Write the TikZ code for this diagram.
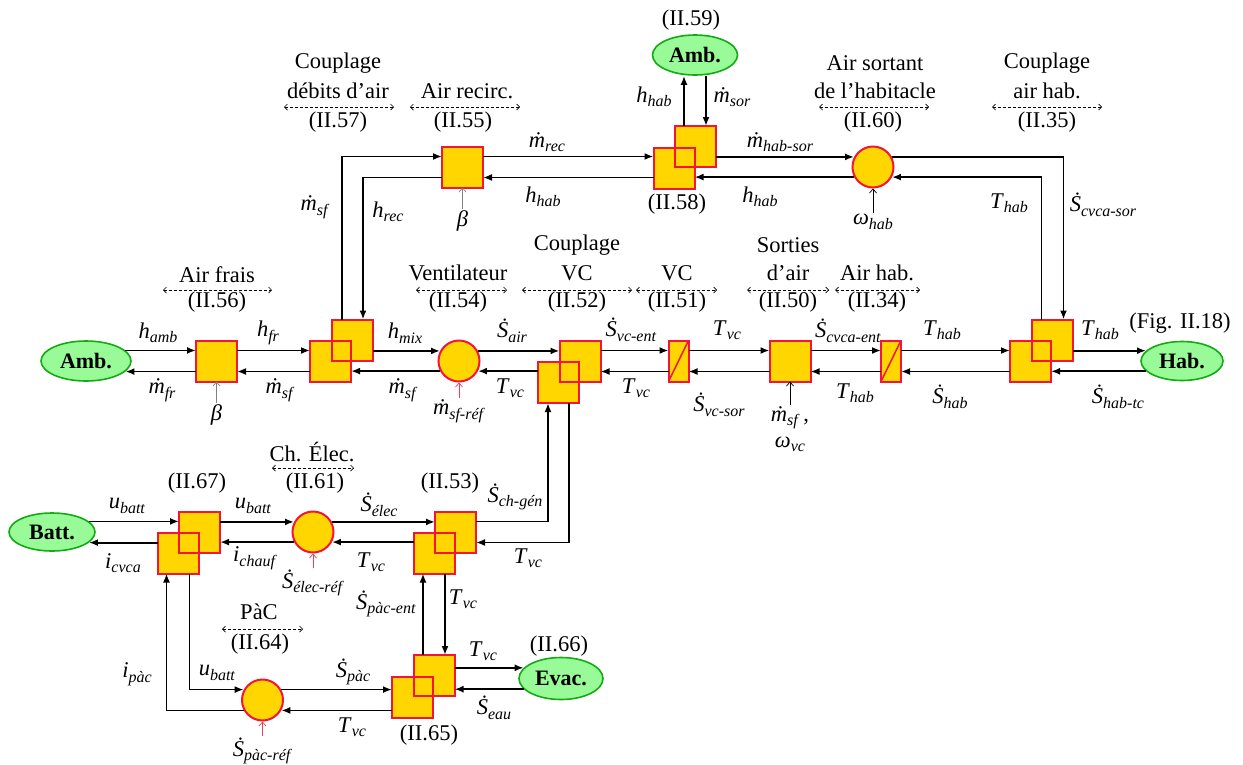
\documentclass[tikz,border=0pt]{standalone}
\usepackage[no-math]{fontspec}
\setmainfont{Liberation Serif}
\usepackage{tikz}
\usetikzlibrary{shapes.geometric,arrows.meta,positioning,calc}

\definecolor{boxyel}{RGB}{255,214,0}
\definecolor{boxred}{RGB}{245,20,55}
\definecolor{srcgreen}{RGB}{152,251,152}
\definecolor{srcedge}{RGB}{20,170,20}
\definecolor{refred}{RGB}{240,60,90}

\newcommand{\vv}[2]{\textit{#1}\raisebox{-4.5pt}{\fontsize{16}{18}\selectfont\textit{#2}}}
\newcommand{\ds}{Ṡ}
\newcommand{\dm}{ṁ}

\tikzset{
  blk/.style={draw=boxred, fill=boxyel, line width=2pt, minimum size=41pt, inner sep=0pt, outer sep=0pt},
  conv/.style={blk, minimum width=20pt, minimum height=41pt,
    path picture={\draw[boxred, line width=1.5pt] (path picture bounding box.south west) -- (path picture bounding box.north east);}},
  acc/.style={circle, draw=boxred, fill=boxyel, line width=2pt, minimum size=41pt, inner sep=0pt},
  src/.style={ellipse, draw=srcedge, fill=srcgreen, line width=1.6pt, inner sep=0pt, font=\fontsize{22}{26}\selectfont\bfseries},
  flow/.style={line width=1.8pt, ->},
  parm/.style={line width=.7pt, -{Straight Barb[length=4pt,width=7pt]}, draw=gray},
  eqspan/.style={line width=.7pt, dash pattern=on 3pt off 2pt, {Straight Barb[length=3pt,width=6pt]}-{Straight Barb[length=3pt,width=6pt]}},
}

\begin{document}
\begin{tikzpicture}[x=1pt, y=-1pt, >={Latex[length=9pt,width=7pt]}, font=\fontsize{22.5}{26}\selectfont, every node/.append style={inner sep=1.5pt}]
\useasboundingbox (0,0) rectangle (1243,764);

\coordinate (mu) at (0,350.5);
\coordinate (ml) at (0,371.5);
\coordinate (tu) at (0,156.5);
\coordinate (tl) at (0,177.5);
\coordinate (bu) at (0,521.5);
\coordinate (bl) at (0,542.5);

% main row
\node[src, minimum width=90pt, minimum height=40pt] (amb1) at (86,361) {Amb.};
\node[blk] (b56) at (216.5,361) {};
\node[blk] (c57b) at (330.5,361) {};
\node[blk] (c57f) at (352.5,340) {};
\node[acc] (v54) at (459,361) {};
\node[blk] (c52b) at (558.5,382.5) {};
\node[blk] (c52f) at (580,361) {};
\node[conv] (s51) at (678.5,361) {};
\node[blk] (b50) at (790,361) {};
\node[conv] (s34) at (891,361) {};
\node[blk] (c35b) at (1030.5,361) {};
\node[blk] (c35f) at (1052.5,340) {};
\node[src, minimum width=82pt, minimum height=39pt] (hab) at (1182,361) {Hab.};

% top row
\node[blk] (b55) at (462.5,167) {};
\node[blk] (c58b) at (674,168) {};
\node[blk] (c58f) at (695,146.5) {};
\node[src, minimum width=85pt, minimum height=40pt] (amb2) at (695,55) {Amb.};
\node[acc] (r60) at (873,167) {};

% bottom rows
\node[src, minimum width=86pt, minimum height=38pt] (batt) at (52,532) {Batt.};
\node[blk] (c67b) at (178,553) {};
\node[blk] (c67f) at (199.5,532) {};
\node[acc] (e61) at (313,532) {};
\node[blk] (c53b) at (434,553) {};
\node[blk] (c53f) at (455.5,532) {};
\node[blk] (c65b) at (412.5,697) {};
\node[blk] (c65f) at (434,675.5) {};
\node[acc] (p64) at (262.5,700) {};
\node[src, minimum width=84pt, minimum height=42pt] (evac) at (561,678.5) {Evac.};

\foreach \n in {c57b,c52b,c35b,c58b,c67b,c53b,c65b}
  \draw[boxred, line width=2pt] (\n.south west) rectangle (\n.north east);

% connectors, main row
\draw[flow] (amb1.15) -- (amb1.15 -| b56.west);
\draw[flow] (amb1.-15 -| b56.west) -- (amb1.-15);
\draw[flow] (b56.east |- mu) -- (c57b.west |- mu);
\draw[flow] (c57b.west |- ml) -- (b56.east |- ml);
\draw[flow] (v54.152 -| c57f.east) -- (v54.152);
\draw[flow] (v54.-152) -- (v54.-152 -| c57b.east);
\draw[flow] (v54.28) -- (v54.28 -| c52f.west);
\draw[flow] (v54.-28 -| c52b.west) -- (v54.-28);
\draw[flow] (c52f.east |- mu) -- (s51.west |- mu);
\draw[flow] (s51.west |- ml) -- (c52f.east |- ml);
\draw[flow] (s51.east |- mu) -- (b50.west |- mu);
\draw[flow] (b50.west |- ml) -- (s51.east |- ml);
\draw[flow] (b50.east |- mu) -- (s34.west |- mu);
\draw[flow] (s34.west |- ml) -- (b50.east |- ml);
\draw[flow] (s34.east |- mu) -- (c35b.west |- mu);
\draw[flow] (c35b.west |- ml) -- (s34.east |- ml);
\draw[flow] (hab.164 -| c35f.east) -- (hab.164);
\draw[flow] (hab.-164) -- (hab.-164 -| c35b.east);

% connectors, top row
\draw[flow] ([xshift=-10.5pt]c57f.north) |- (b55.west |- tu);
\draw[flow] (b55.west |- tl) -| ([xshift=10.5pt]c57f.north);
\draw[flow] (b55.east |- tu) -- (c58b.west |- tu);
\draw[flow] (c58b.west |- tl) -- (b55.east |- tl);
\draw[flow] (r60.152 -| c58f.east) -- (r60.152);
\draw[flow] (r60.-152) -- (r60.-152 -| c58b.east);
\draw[flow] ([xshift=-11pt]c58f.north) -- ([xshift=-11pt]amb2.south);
\draw[flow] ([xshift=11pt]amb2.south) -- ([xshift=11pt]c58f.north);
\draw[flow] (r60.28) -| ([xshift=11pt]c35f.north);
\draw[flow] ([xshift=-11pt]c35f.north) |- (r60.-28);

% connectors, bottom rows
\draw[flow] (c53f.east |- bu) -| ([xshift=-10.5pt]c52b.south);
\draw[flow] ([xshift=10.5pt]c52b.south) |- (c53f.east |- bl);
\draw[flow] (batt.16) -- (batt.16 -| c67f.west);
\draw[flow] (batt.-16 -| c67b.west) -- (batt.-16);
\draw[flow] (e61.152 -| c67f.east) -- (e61.152);
\draw[flow] (e61.-152) -- (e61.-152 -| c67f.east);
\draw[flow] (e61.28) -- (e61.28 -| c53f.west);
\draw[flow] (e61.-28 -| c53b.west) -- (e61.-28);
\draw[flow] ([xshift=11.5pt]c67b.south) |- (p64.151);
\draw[flow] (p64.-151) -| ([xshift=-11.5pt]c67b.south);
\draw[flow] (p64.29) -- (p64.29 -| c65b.west);
\draw[flow] (p64.-29 -| c65b.west) -- (p64.-29);
\draw[flow] ([xshift=-11pt]c65f.north) -- ([xshift=-11pt]c53b.south);
\draw[flow] ([xshift=11pt]c53b.south) -- ([xshift=11pt]c65f.north);
\draw[flow] (evac.164 -| c65f.east) -- (evac.164);
\draw[flow] (evac.-164) -- (evac.-164 -| c65f.east);

% flow labels
\node (lhamb) at (158,333) {\vv{h}{amb}};
\node (lmfr) at (162,390) {\vv{\dm}{fr}};
\node (lhfr) at (268,333) {\vv{h}{fr}};
\node (lmsf1) at (280,390) {\vv{\dm}{sf}};
\node (lhmix) at (405,333) {\vv{h}{mix}};
\node (lmsf2) at (403,390) {\vv{\dm}{sf}};
\node (lsair) at (512,331) {\vv{\ds}{air}};
\node (ltvc1) at (510,388) {\vv{T}{vc}};
\node (lsvcent) at (631,330) {\vv{\ds}{vc-ent}};
\node (ltvc2) at (636,388) {\vv{T}{vc}};
\node (ltvc3) at (727,330) {\vv{T}{vc}};
\node (lsvcsor) at (719,405) {\vv{\ds}{vc-sor}};
\node (lscvent) at (848,331) {\vv{\ds}{cvca-ent}};
\node (lthab1) at (855,393) {\vv{T}{hab}};
\node (lthab2) at (942,330) {\vv{T}{hab}};
\node (lshab) at (950,397) {\vv{\ds}{hab}};
\node (lthab3) at (1100,330) {\vv{T}{hab}};
\node (lshabtc) at (1118,397) {\vv{\ds}{hab-tc}};
\node (lfig) at (1180,323) {(Fig. II.18)};

\node (lmsf3) at (315,207) {\vv{\dm}{sf}};
\node (lhrec) at (388,212) {\vv{h}{rec}};
\node (lmrec) at (547,142) {\vv{\dm}{rec}};
\node (lhhab1) at (543,197) {\vv{h}{hab}};
\node (q58) at (677,204) {(II.58)};
\node (lhhab2) at (654,97) {\vv{h}{hab}};
\node (lmsor) at (732,97) {\vv{\dm}{sor}};
\node (q59) at (691,20) {(II.59)};
\node (lmhabsor) at (780,142) {\vv{\dm}{hab-sor}};
\node (lhhab3) at (760,197) {\vv{h}{hab}};
\node (lthab4) at (1009,203) {\vv{T}{hab}};
\node (lscvsor) at (1103,205) {\vv{\ds}{cvca-sor}};

\node (lubatt1) at (127,506) {\vv{u}{batt}};
\node (licvca) at (123,563) {\vv{i}{cvca}};
\node (lubatt2) at (253,506) {\vv{u}{batt}};
\node (lichauf) at (255,558) {\vv{i}{chauf}};
\node (lselec) at (379,505) {\vv{\ds}{élec}};
\node (ltvc4) at (371,562) {\vv{T}{vc}};
\node (lschgen) at (515,497) {\vv{\ds}{ch-gén}};
\node (ltvc5) at (528,558) {\vv{T}{vc}};
\node (ltvc6) at (463,599) {\vv{T}{vc}};
\node (lspacent) at (386,604) {\vv{\ds}{pàc-ent}};
\node (lipac) at (137,674) {\vv{i}{pàc}};
\node (lubatt3) at (217,673) {\vv{u}{batt}};
\node (lspac) at (353,672) {\vv{\ds}{pàc}};
\node (ltvc7) at (352,727) {\vv{T}{vc}};
\node (q65) at (429,735) {(II.65)};
\node (ltvc8) at (483,651) {\vv{T}{vc}};
\node (q66) at (559,646) {(II.66)};
\node (lseau) at (494,708) {\vv{\ds}{eau}};
\node (q67) at (197,483) {(II.67)};
\node (q53) at (450,483) {(II.53)};

% parameter inputs
\node (lb56) at (216.5,415) {\textit{β}};
\node (lmsfref) at (459,411) {\vv{\dm}{sf-réf}};
\node[align=center] (lb50) at (790,429) {\vv{\dm}{sf}\,,\\\vv{ω}{vc}};
\node (lb55) at (462.5,221) {\textit{β}};
\node (lwhab) at (873,222) {\vv{ω}{hab}};
\node (lselecref) at (313,583) {\vv{\ds}{élec-réf}};
\node (lspacref) at (262.5,751) {\vv{\ds}{pàc-réf}};
\draw[parm] (lb56.north -| b56.south) -- (b56.south);
\draw[parm, draw=refred] (lmsfref.north -| v54.south) -- (v54.south);
\draw[parm, draw=black] (lb50.north -| b50.south) -- (b50.south);
\draw[parm] (lb55.north -| b55.south) -- (b55.south);
\draw[parm, draw=black] (lwhab.north -| r60.south) -- (r60.south);
\draw[parm, draw=refred] (lselecref.north -| e61.south) -- (e61.south);
\draw[parm, draw=refred] (lspacref.north -| p64.south) -- (p64.south);

% headers
\node (t57a) at (338,63) {Couplage};
\node (t57b) at (338,91) {débits d’air};
\node (q57) at (338,122) {(II.57)};
\node (t55) at (467,91) {Air recirc.};
\node (q55) at (463,122) {(II.55)};
\node (t60a) at (875,63) {Air sortant};
\node (t60b) at (875,91) {de l’habitacle};
\node (q60) at (873,122) {(II.60)};
\node (t35a) at (1047,63) {Couplage};
\node (t35b) at (1047,91) {air hab.};
\node (q35) at (1047,122) {(II.35)};
\draw[eqspan] (284,107) -- (394,107);
\draw[eqspan] (410,107) -- (520,107);
\draw[eqspan] (819,107) -- (929,107);
\draw[eqspan] (992,107) -- (1102,107);

\node (t56) at (217,275) {Air frais};
\node (q56) at (217,302) {(II.56)};
\node (t54) at (458,273) {Ventilateur};
\node (q54) at (458,302) {(II.54)};
\node (t52a) at (577,245) {Couplage};
\node (t52b) at (577,273) {VC};
\node (q52) at (577,302) {(II.52)};
\node (t51) at (677,273) {VC};
\node (q51) at (677,302) {(II.51)};
\node (t50a) at (788,245) {Sorties};
\node (t50b) at (788,273) {d’air};
\node (q50) at (788,302) {(II.50)};
\node (t34) at (877,273) {Air hab.};
\node (q34) at (877,302) {(II.34)};
\draw[eqspan] (163,290) -- (272,290);
\draw[eqspan] (416,290) -- (507,290);
\draw[eqspan] (522,290) -- (632,290);
\draw[eqspan] (636,290) -- (717,290);
\draw[eqspan] (747,290) -- (829,290);
\draw[eqspan] (835,290) -- (920,290);

\node (t61) at (312,452) {Ch. Élec.};
\node (q61) at (315,483) {(II.61)};
\draw[eqspan] (272,468) -- (354,468);
\node (t64) at (259,612) {PàC};
\node (q64) at (260,644) {(II.64)};
\draw[eqspan] (222,629) -- (303,629);
\end{tikzpicture}
\end{document}
